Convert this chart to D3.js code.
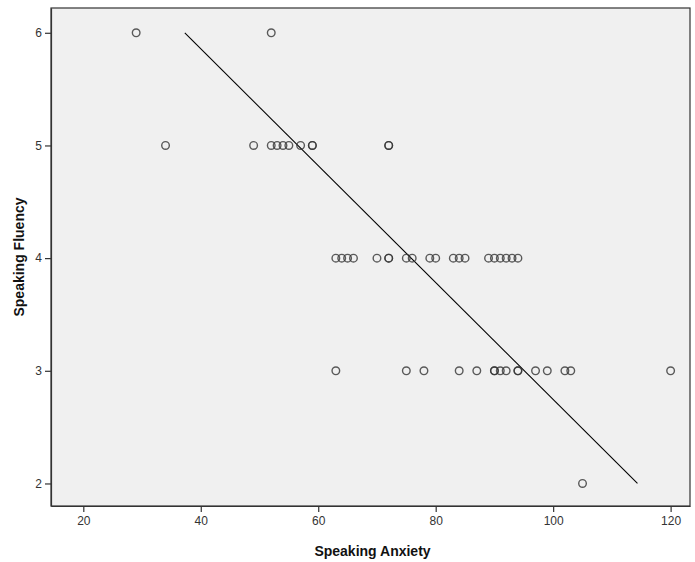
<!DOCTYPE html>
<html>
<head>
<meta charset="utf-8">
<script src="https://cdn.jsdelivr.net/npm/d3@7"></script>
<style>
  body { margin: 0; background: #fff; }
  svg text { font-family: Arial, "Liberation Sans", sans-serif; }
</style>
</head>
<body>
<script>
// scatter values: anxiety (x) and fluency (y)
var anxiety = [29, 52,
  34, 49, 52, 53, 54, 55, 57, 59, 59, 72, 72,
  63, 64, 65, 66, 70, 72, 72, 75, 76, 79, 80, 83, 84, 85, 89, 90, 91, 92, 93, 94,
  63, 75, 78, 84, 87, 90, 90, 91, 92, 94, 94, 97, 99, 102, 103, 120,
  105];
var fluency = [6, 6,
  5, 5, 5, 5, 5, 5, 5, 5, 5, 5, 5,
  4, 4, 4, 4, 4, 4, 4, 4, 4, 4, 4, 4, 4, 4, 4, 4, 4, 4, 4, 4,
  3, 3, 3, 3, 3, 3, 3, 3, 3, 3, 3, 3, 3, 3, 3, 3,
  2];
var xTicks = [20, 40, 60, 80, 100, 120];
var yTicks = [2, 3, 4, 5, 6];
// fit line
var fitIntercept = 7.935;
var fitSlope = -0.0519;

var W = 695, H = 562;
var m = { left: 51, top: 8, right: 5, bottom: 56 };
var pw = W - m.left - m.right, ph = H - m.top - m.bottom;

var svg = d3.select('body').append('svg')
  .attr('width', W).attr('height', H);

var x = d3.scaleLinear().domain([14.5, 123.3]).range([0, pw]);
var y = d3.scaleLinear().domain([1.8, 6.22]).range([ph, 0]);

var g = svg.append('g').attr('transform', 'translate(' + m.left + ',' + m.top + ')');

g.append('rect')
  .attr('width', pw).attr('height', ph)
  .attr('fill', '#f0f0f0')
  .attr('stroke', '#333').attr('stroke-width', 1.2);

// axes
var xAxis = g.append('g')
  .attr('transform', 'translate(0,' + ph + ')')
  .call(d3.axisBottom(x).tickValues(xTicks).tickFormat(d3.format('d'))
    .tickSizeInner(6).tickSizeOuter(0).tickPadding(4));
var yAxis = g.append('g')
  .call(d3.axisLeft(y).tickValues(yTicks).tickFormat(d3.format('d'))
    .tickSizeInner(6).tickSizeOuter(0).tickPadding(3));

[xAxis, yAxis].forEach(function(a) {
  a.select('.domain').attr('stroke', '#333').attr('stroke-width', 1.2);
  a.selectAll('.tick line').attr('stroke', '#333').attr('stroke-width', 1.2);
  a.selectAll('.tick text').attr('fill', '#333').style('font-size', '12px');
});

// fit line between the lowest and highest fluency
var yLo = d3.min(fluency), yHi = d3.max(fluency);
var fitPts = [[(yHi - fitIntercept) / fitSlope, yHi], [(yLo - fitIntercept) / fitSlope, yLo]];
g.append('line')
  .attr('x1', x(fitPts[0][0])).attr('y1', y(fitPts[0][1]))
  .attr('x2', x(fitPts[1][0])).attr('y2', y(fitPts[1][1]))
  .attr('stroke', '#000').attr('stroke-width', 1.1);

// points
g.selectAll('circle.pt')
  .data(d3.range(anxiety.length))
  .enter().append('circle')
  .attr('class', 'pt')
  .attr('cx', function(i) { return x(anxiety[i]); })
  .attr('cy', function(i) { return y(fluency[i]); })
  .attr('r', 3.8)
  .attr('fill', 'none')
  .attr('stroke', '#333')
  .attr('stroke-opacity', 0.8)
  .attr('stroke-width', 1.4);

// titles
svg.append('text')
  .attr('x', m.left + pw / 2 + 2).attr('y', 556)
  .attr('text-anchor', 'middle')
  .style('font-size', '14px').style('font-weight', 'bold').attr('fill', '#111')
  .text('Speaking Anxiety');
svg.append('text')
  .attr('transform', 'translate(24,' + (m.top + ph / 2) + ') rotate(-90)')
  .attr('text-anchor', 'middle')
  .style('font-size', '14px').style('font-weight', 'bold').attr('fill', '#111')
  .text('Speaking Fluency');
</script>
</body>
</html>
